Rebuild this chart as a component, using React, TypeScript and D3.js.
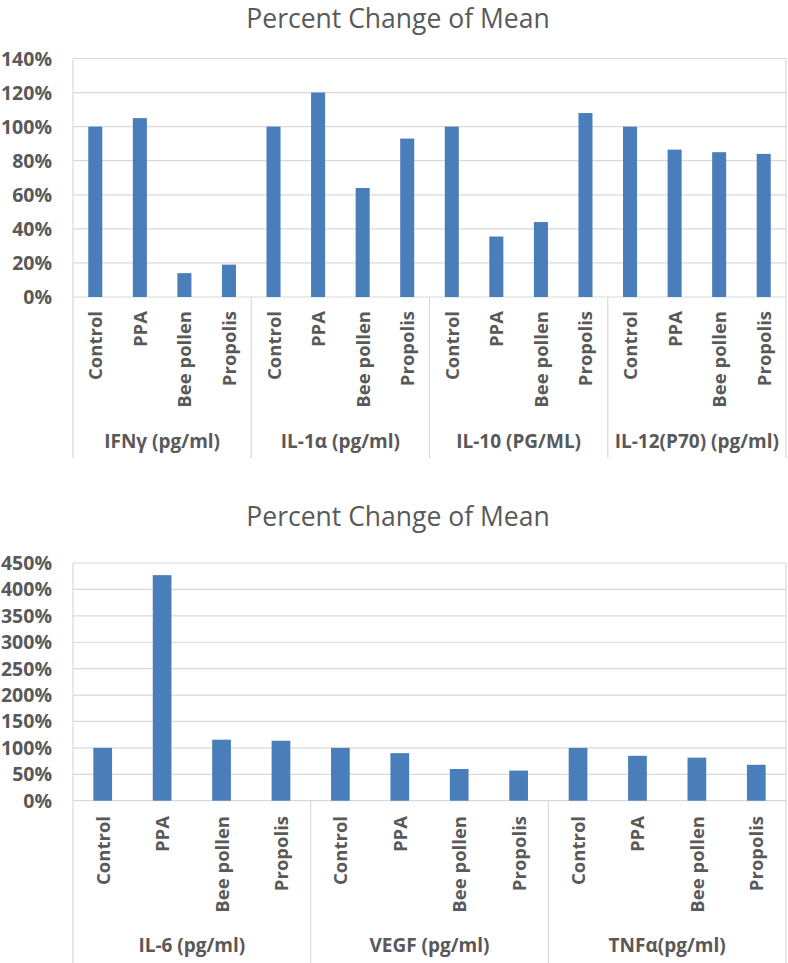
import React, { useEffect, useRef } from "react";
import * as d3 from "d3";

// treatments shown in every cytokine group
const treatments = ["Control", "PPA", "Bee pollen", "Propolis"];

// top panel
const topGroups = ["IFNγ (pg/ml)", "IL-1α (pg/ml)", "IL-10 (PG/ML)", "IL-12(P70) (pg/ml)"];
const ifng = [100, 105, 14, 19];
const il1a = [100, 120, 64, 93];
const il10 = [100, 35.5, 44, 108];
const il12 = [100, 86.5, 85, 84];
const topTicks = [0, 20, 40, 60, 80, 100, 120, 140];

// bottom panel
const bottomGroups = ["IL-6 (pg/ml)", "VEGF (pg/ml)", "TNFα(pg/ml)"];
const il6 = [100, 427, 115.5, 113.5];
const vegf = [100, 90, 60, 57];
const tnfa = [100, 85, 81.5, 68];
const bottomTicks = [0, 50, 100, 150, 200, 250, 300, 350, 400, 450];

const title = "Percent Change of Mean";

const BAR = "#4a7ebb";
const GRID = "#d9d9d9";
const TEXT = "#595959";
const FONT = "'Open Sans', sans-serif";

function drawPanel(svg, opts) {
  const { groups, values, ticks, top, bottom, titleY, labelTop, groupY, sepBottom } = opts;
  const left = 73;
  const right = 786;

  const rows = [];
  groups.forEach((g, gi) => {
    treatments.forEach((t, ti) => {
      rows.push({ key: `${g}|${t}`, group: g, treatment: t, value: values[gi][ti] });
    });
  });

  const x = d3
    .scaleBand()
    .domain(rows.map((d) => d.key))
    .range([left, right])
    .paddingInner(0.685)
    .paddingOuter(0.3425);

  const xg = d3.scaleBand().domain(groups).range([left, right]);

  const y = d3
    .scaleLinear()
    .domain([0, ticks[ticks.length - 1]])
    .range([bottom, top]);

  // title
  svg
    .append("text")
    .attr("x", 398)
    .attr("y", titleY)
    .attr("text-anchor", "middle")
    .attr("font-family", FONT)
    .attr("font-size", 26.5)
    .attr("fill", TEXT)
    .text(title);

  // gridlines
  svg
    .append("g")
    .selectAll("line")
    .data(ticks)
    .enter()
    .append("line")
    .attr("x1", left)
    .attr("x2", right)
    .attr("y1", (d) => y(d))
    .attr("y2", (d) => y(d))
    .attr("stroke", GRID)
    .attr("stroke-width", 1.2);

  // plot border (right side)
  svg
    .append("line")
    .attr("x1", right)
    .attr("x2", right)
    .attr("y1", top)
    .attr("y2", bottom)
    .attr("stroke", GRID)
    .attr("stroke-width", 1.2);

  // group separators, running down through the label area
  const seps = groups.map((g) => xg(g)).concat([right]);
  svg
    .append("g")
    .selectAll("line")
    .data(seps)
    .enter()
    .append("line")
    .attr("x1", (d) => d)
    .attr("x2", (d) => d)
    .attr("y1", (d, i) => (i === 0 ? top : bottom))
    .attr("y2", sepBottom)
    .attr("stroke", GRID)
    .attr("stroke-width", 1.2);

  // y tick labels
  svg
    .append("g")
    .selectAll("text")
    .data(ticks)
    .enter()
    .append("text")
    .attr("x", left - 21)
    .attr("y", (d) => y(d))
    .attr("dy", "0.36em")
    .attr("text-anchor", "end")
    .attr("font-family", FONT)
    .attr("font-weight", 700)
    .attr("font-size", 19.5)
    .attr("fill", TEXT)
    .text((d) => `${d}%`);

  // bars
  svg
    .append("g")
    .selectAll("rect")
    .data(rows)
    .enter()
    .append("rect")
    .attr("x", (d) => x(d.key))
    .attr("y", (d) => y(d.value))
    .attr("width", x.bandwidth())
    .attr("height", (d) => bottom - y(d.value))
    .attr("fill", BAR);

  // treatment labels, rotated
  svg
    .append("g")
    .selectAll("text")
    .data(rows)
    .enter()
    .append("text")
    .attr("transform", (d) => `translate(${x(d.key) + x.bandwidth() / 2 + 7},${labelTop}) rotate(-90)`)
    .attr("text-anchor", "end")
    .attr("font-family", FONT)
    .attr("font-weight", 700)
    .attr("font-size", 18.5)
    .attr("fill", TEXT)
    .text((d) => d.treatment);

  // group labels
  svg
    .append("g")
    .selectAll("text")
    .data(groups)
    .enter()
    .append("text")
    .attr("x", (d) => xg(d) + xg.bandwidth() / 2)
    .attr("y", groupY)
    .attr("text-anchor", "middle")
    .attr("font-family", FONT)
    .attr("font-weight", 700)
    .attr("font-size", 19)
    .attr("fill", TEXT)
    .text((d) => d);
}

export default function App() {
  const ref = useRef(null);

  useEffect(() => {
    const svg = d3.select(ref.current);
    svg.selectAll("*").remove();

    drawPanel(svg, {
      groups: topGroups,
      values: [ifng, il1a, il10, il12],
      ticks: topTicks,
      top: 58.5,
      bottom: 297,
      titleY: 28,
      labelTop: 311,
      groupY: 448,
      sepBottom: 458,
    });

    drawPanel(svg, {
      groups: bottomGroups,
      values: [il6, vegf, tnfa],
      ticks: bottomTicks,
      top: 563,
      bottom: 800.7,
      titleY: 526,
      labelTop: 816,
      groupY: 952,
      sepBottom: 963,
    });
  }, []);

  return (
    <svg
      ref={ref}
      width={788}
      height={963}
      style={{ position: "absolute", left: 0, top: 0, background: "#fff" }}
    />
  );
}
